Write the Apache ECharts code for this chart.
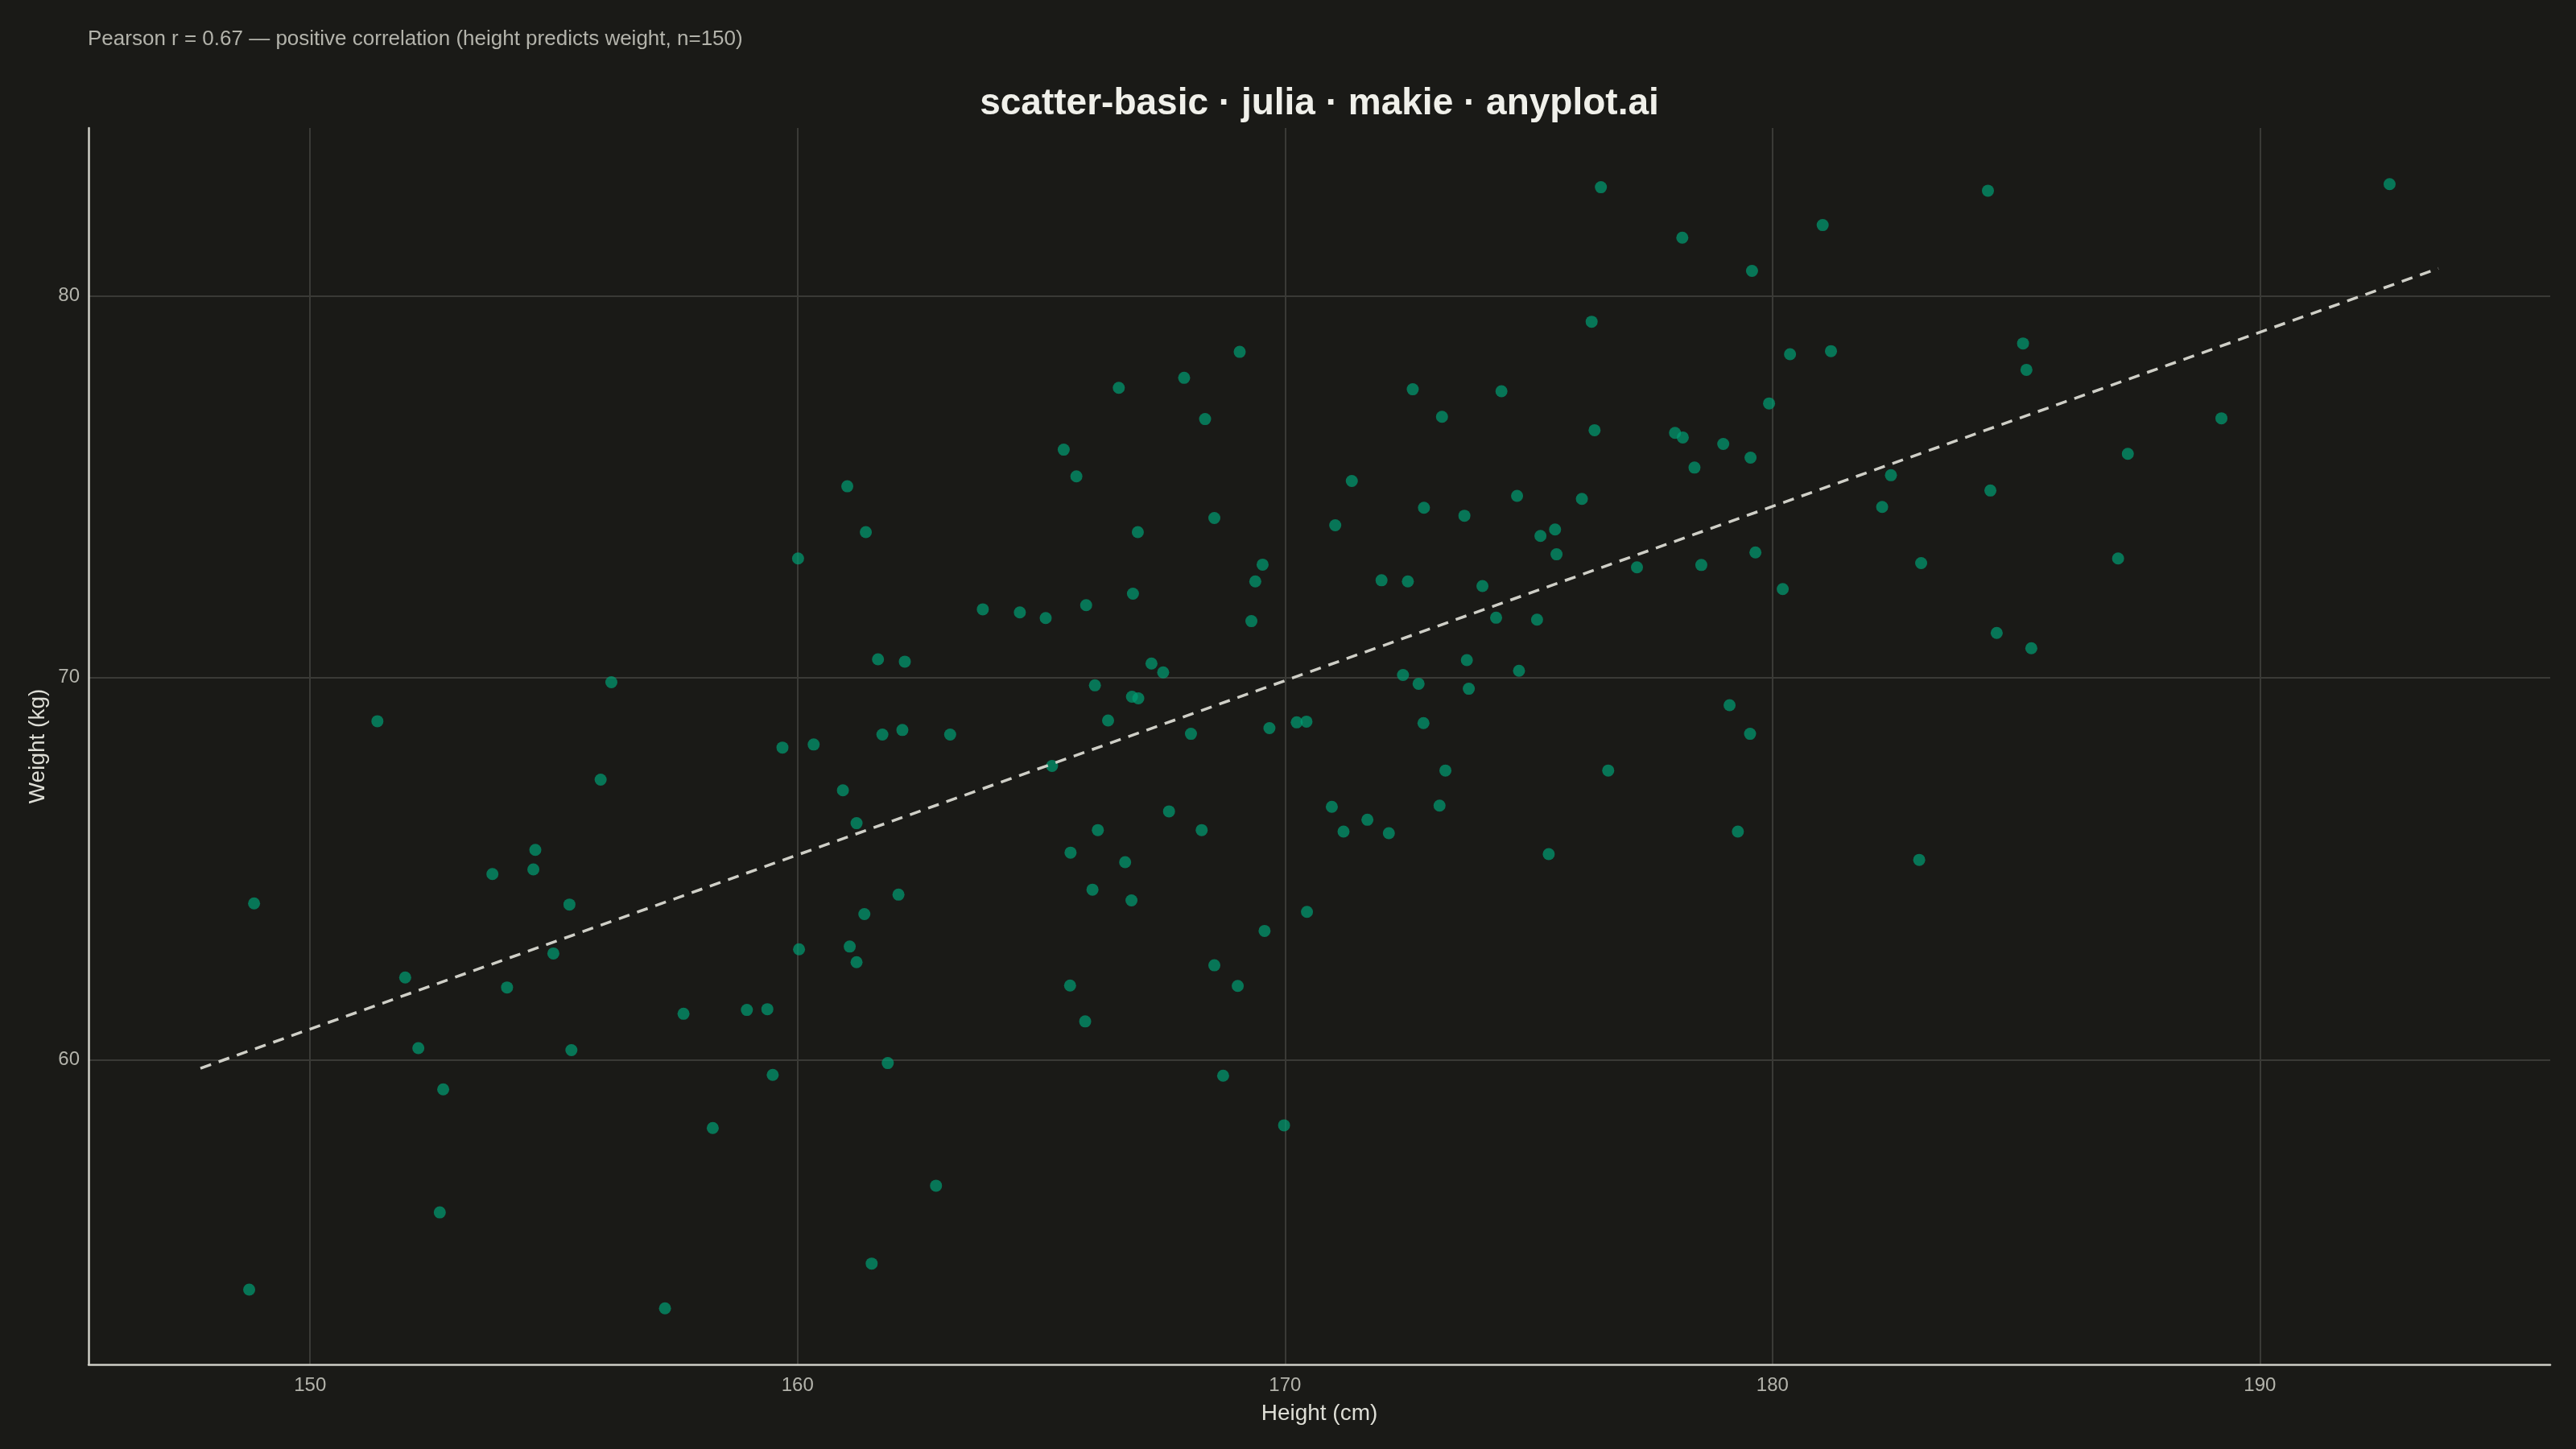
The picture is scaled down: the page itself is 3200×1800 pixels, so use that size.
<!DOCTYPE html>
<html>
<head>
<meta charset="utf-8">
<script src="https://cdn.jsdelivr.net/npm/echarts@6/dist/echarts.min.js"></script>
<style>
  html, body { margin: 0; padding: 0; background: #1a1a17; }
  #chart { width: 3200px; height: 1800px; }
</style>
</head>
<body>
<div id="chart"></div>
<script>
// ---- data ----
const heights = [
  148.85, 148.75, 151.38, 151.95, 152.22, 152.73, 152.66, 153.74, 154.04, 154.62,
  154.58, 154.99, 155.32, 155.36, 155.96, 156.18, 157.28, 157.66, 158.26, 158.96,
  159.38, 159.49, 159.69, 160.01, 160.03, 160.33, 160.93, 161.02, 161.07, 161.21,
  161.21, 161.37, 161.40, 161.52, 161.65, 161.74, 161.85, 162.07, 162.15, 162.20,
  162.84, 163.13, 163.80, 164.56, 165.09, 165.22, 165.46, 165.60, 165.59, 165.72,
  165.92, 165.90, 166.05, 166.10, 166.16, 166.37, 166.59, 166.72, 166.86, 166.85,
  166.88, 166.98, 166.99, 167.26, 167.50, 167.62, 167.93, 168.07, 168.29, 168.36,
  168.55, 168.55, 168.73, 169.03, 169.07, 169.31, 169.39, 169.54, 169.58, 169.68,
  169.98, 170.24, 170.44, 170.45, 170.96, 171.03, 171.20, 171.37, 171.69, 171.98,
  172.13, 172.42, 172.52, 172.62, 172.74, 172.85, 172.84, 173.17, 173.22, 173.29,
  173.68, 173.73, 173.77, 174.05, 174.33, 174.44, 174.76, 174.80, 176.09, 175.17,
  175.24, 175.41, 175.54, 175.57, 176.29, 176.35, 176.48, 176.63, 177.22, 178.00,
  178.16, 178.15, 178.40, 178.54, 178.99, 179.12, 179.29, 179.55, 179.54, 179.58,
  179.65, 179.93, 180.21, 180.36, 181.03, 181.20, 182.25, 182.43, 183.01, 183.05,
  184.42, 184.47, 184.60, 185.14, 185.21, 185.31, 187.09, 187.29, 189.21, 192.66
];
const weights = [
  64.09, 53.98, 68.86, 62.15, 60.30, 59.22, 56.00, 64.86, 61.89, 65.49,
  64.98, 62.78, 64.06, 60.25, 67.33, 69.88, 53.49, 61.20, 58.21, 61.30,
  61.32, 59.60, 68.17, 73.12, 62.89, 68.25, 67.05, 75.01, 62.96, 66.19,
  62.55, 63.81, 73.81, 54.66, 70.48, 68.51, 59.91, 64.32, 68.63, 70.42,
  56.70, 68.51, 71.79, 71.71, 71.56, 67.69, 75.97, 65.42, 61.94, 75.27,
  71.90, 61.00, 64.45, 69.80, 66.01, 68.88, 77.59, 65.17, 69.50, 64.17,
  72.20, 73.81, 69.46, 70.37, 70.14, 66.50, 77.85, 68.53, 66.01, 76.77,
  74.18, 62.47, 59.58, 61.93, 78.53, 71.48, 72.52, 72.96, 63.37, 68.68,
  58.28, 68.83, 68.85, 63.87, 66.62, 73.99, 65.97, 75.15, 66.28, 72.55,
  65.93, 70.07, 72.52, 77.55, 69.84, 74.45, 68.81, 66.65, 76.83, 67.57,
  74.24, 70.46, 69.71, 72.40, 71.57, 77.50, 74.76, 70.18, 74.68, 71.52,
  73.71, 65.38, 73.88, 73.23, 79.32, 76.48, 82.84, 67.57, 72.89, 76.41,
  76.29, 81.52, 75.50, 72.95, 76.12, 69.28, 65.97, 75.76, 68.53, 80.65,
  73.28, 77.18, 72.32, 78.47, 81.85, 78.55, 74.47, 75.30, 65.23, 73.00,
  82.75, 74.90, 71.17, 78.75, 78.06, 70.77, 73.12, 75.86, 76.79, 82.92
];
const xTicks = [150, 160, 170, 180, 190];
const yTicks = [60, 70, 80];
const titleText = 'scatter-basic · julia · makie · anyplot.ai';
const subtitleText = 'Pearson r = 0.67 — positive correlation (height predicts weight, n=150)';
const xName = 'Height (cm)';
const yName = 'Weight (kg)';

// ---- least-squares trend line, derived from the data ----
const n = heights.length;
const mx = heights.reduce((a, b) => a + b, 0) / n;
const my = weights.reduce((a, b) => a + b, 0) / n;
let sxy = 0, sxx = 0;
for (let i = 0; i < n; i++) {
  sxy += (heights[i] - mx) * (weights[i] - my);
  sxx += (heights[i] - mx) * (heights[i] - mx);
}
const slope = sxy / sxx;
const intercept = my - slope * mx;
const lx0 = Math.min(...heights) - 1;
const lx1 = Math.max(...heights) + 1;
const trend = [[lx0, intercept + slope * lx0], [lx1, intercept + slope * lx1]];

// ---- axis limits like Makie's default 5% margins ----
const allY = weights.concat([trend[0][1], trend[1][1]]);
const xr = lx1 - lx0;
const yMinD = Math.min(...allY), yMaxD = Math.max(...allY);
const yr = yMaxD - yMinD;
const xMin = lx0 - 0.05 * xr, xMax = lx1 + 0.05 * xr;
const yMin = yMinD - 0.05 * yr, yMax = yMaxD + 0.05 * yr;

const points = heights.map((h, i) => [h, weights[i]]);

const chart = echarts.init(document.getElementById('chart'), null, { renderer: 'canvas' });
const FONT = '"Liberation Sans", Arial, Helvetica, sans-serif';
const GRID = { left: 110, right: 32, top: 159, bottom: 105 };

chart.setOption({
  animation: false,
  backgroundColor: '#1a1a17',
  textStyle: { fontFamily: FONT },
  grid: Object.assign({ containLabel: false }, GRID),
  graphic: [
    {
      type: 'text', left: 109, top: 36,
      style: { text: subtitleText, fontSize: 26, fill: '#b3b3ab', fontFamily: FONT }
    },
    {
      type: 'text', x: GRID.left + (3200 - GRID.left - GRID.right) / 2, y: 129,
      style: {
        text: titleText, fontSize: 46, fontWeight: 'bold', fill: '#f0f0ea',
        fontFamily: FONT, align: 'center', verticalAlign: 'middle'
      }
    }
  ],
  xAxis: {
    type: 'value', min: xMin, max: xMax,
    name: xName, nameLocation: 'middle', nameGap: 47,
    nameTextStyle: { fontSize: 28, color: '#deded6', fontFamily: FONT },
    axisLine: { show: true, onZero: false, lineStyle: { color: '#cfcfc7', width: 2.5 } },
    axisTick: { show: false, customValues: xTicks },
    axisLabel: { customValues: xTicks, fontSize: 24, color: '#b3b3ab', margin: 14, fontFamily: FONT },
    splitLine: { show: true, lineStyle: { color: '#3a3a36', width: 2 } }
  },
  yAxis: {
    type: 'value', min: yMin, max: yMax,
    name: yName, nameLocation: 'middle', nameGap: 45, nameRotate: 90,
    nameTextStyle: { fontSize: 28, color: '#deded6', fontFamily: FONT },
    axisLine: { show: true, onZero: false, lineStyle: { color: '#cfcfc7', width: 2.5 } },
    axisTick: { show: false, customValues: yTicks },
    axisLabel: { customValues: yTicks, fontSize: 24, color: '#b3b3ab', margin: 11, fontFamily: FONT },
    splitLine: { show: true, lineStyle: { color: '#3a3a36', width: 2 } }
  },
  series: [
    {
      type: 'scatter', data: points, symbol: 'circle', symbolSize: 15,
      itemStyle: { color: '#009E73', opacity: 0.7 },
      emphasis: { disabled: true }, z: 2
    },
    {
      type: 'line', data: trend, showSymbol: false, symbol: 'none',
      lineStyle: { color: '#cfcfc7', width: 3.5, type: [14, 10] },
      emphasis: { disabled: true }, z: 3
    }
  ]
});
</script>
</body>
</html>
